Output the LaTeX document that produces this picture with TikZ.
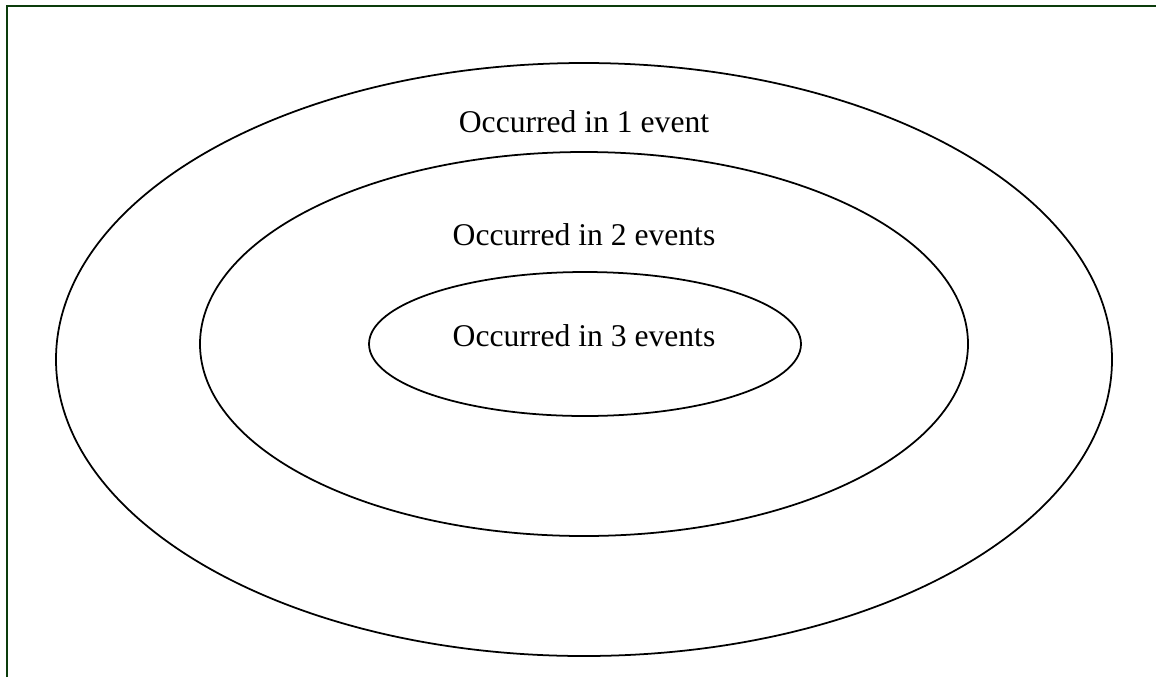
\documentclass[tikz,border=0pt]{standalone}
\usepackage{fontspec}
\setmainfont{Liberation Serif}
\usepackage{tikz}
\definecolor{framegreen}{RGB}{12,60,12}
\tikzset{
    ring/.style={line width=1pt,draw=black},
    ringlabel/.style={anchor=base,black,inner sep=0pt,font=\fontsize{18}{22}\selectfont}
}

\begin{document}
\begin{tikzpicture}[x=0.02cm,y=-0.02cm]
    \useasboundingbox (0,0) rectangle (1156,677);
    \draw [line width=1.6pt,framegreen] (7,677) -- (7,6) -- (1156,6);
    \begin{scope}[ring]
    \draw (584,359.5) ellipse (528 and 296.5);
    \draw (584,344) ellipse (384 and 192);
    \draw (585,344) ellipse (216 and 72);
    \end{scope}
    \node [ringlabel] (one)   at (584,132) {Occurred in 1 event};
    \node [ringlabel] (two)   at (584,245) {Occurred in 2 events};
    \node [ringlabel] (three) at (584,346) {Occurred in 3 events};
\end{tikzpicture}
\end{document}
